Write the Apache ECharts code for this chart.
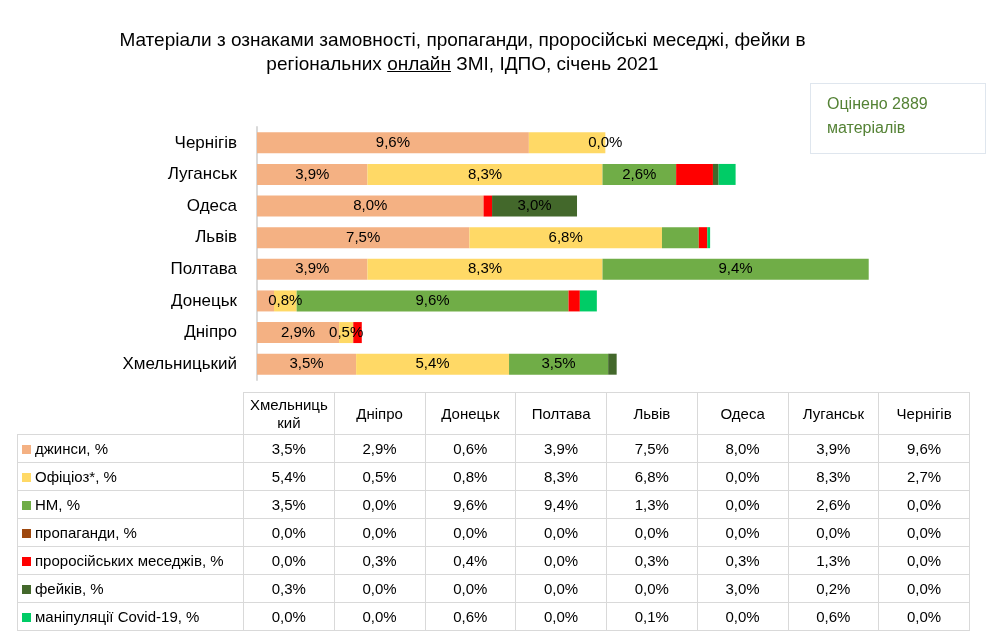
<!DOCTYPE html>
<html>
<head>
<meta charset="utf-8">
<script src="https://cdn.jsdelivr.net/npm/echarts@6/dist/echarts.min.js"></script>
<style>
  body { margin: 0; background: #fff; font-family: "Liberation Sans", sans-serif; color: #000; }
  .wrap { position: relative; width: 1000px; height: 640px; }
  #chart { position: absolute; left: 0; top: 0; width: 1000px; height: 640px; }
  .title { position: absolute; left: 0; top: 28px; width: 925px; text-align: center; font-size: 19px; line-height: 24px; }
  .note { position: absolute; left: 810px; top: 83px; width: 176px; height: 71px; border: 1px solid #dfe6ee; box-sizing: border-box;
          color: #548235; font-size: 16px; line-height: 24px; padding: 8px 0 0 16px; }
  table.data { position: absolute; left: 17px; top: 392px; border-collapse: collapse; font-size: 15px; table-layout: fixed; width: 952px; }
  table.data td { border: 1px solid #d9d9d9; height: 27px; padding: 0; text-align: center; }
  table.data tr.head td { height: 41px; line-height: 18px; }
  table.data td.name { text-align: left; padding-left: 4px; }
  table.data tr.head td.name { border-top: none; border-left: none; }
  .sw { display: inline-block; width: 9px; height: 9px; margin-right: 4px; vertical-align: 0px; }
</style>
</head>
<body>
<div class="wrap">
  <div id="chart"></div>
  <div class="title">Матеріали з ознаками замовності, пропаганди, проросійські меседжі, фейки в<br>регіональних <u>онлайн</u> ЗМІ, ІДПО, січень 2021</div>
  <div class="note">Оцінено 2889<br>матеріалів</div>
  <table class="data" id="tbl"></table>
</div>
<script>
// категорії знизу вгору (як у таблиці)
const cities = ['Хмельницький', 'Дніпро', 'Донецьк', 'Полтава', 'Львів', 'Одеса', 'Луганськ', 'Чернігів']
const cityHeads = ['Хмельниць<br>кий', 'Дніпро', 'Донецьк', 'Полтава', 'Львів', 'Одеса', 'Луганськ', 'Чернігів']

const jeans = [3.5, 2.9, 0.6, 3.9, 7.5, 8.0, 3.9, 9.6]
const official = [5.4, 0.5, 0.8, 8.3, 6.8, 0.0, 8.3, 2.7]
const nm = [3.5, 0.0, 9.6, 9.4, 1.3, 0.0, 2.6, 0.0]
const propaganda = [0.0, 0.0, 0.0, 0.0, 0.0, 0.0, 0.0, 0.0]
const proRussian = [0.0, 0.3, 0.4, 0.0, 0.3, 0.3, 1.3, 0.0]
const fakes = [0.3, 0.0, 0.0, 0.0, 0.0, 3.0, 0.2, 0.0]
const covid = [0.0, 0.0, 0.6, 0.0, 0.1, 0.0, 0.6, 0.0]

const seriesList = [
  { name: 'джинси, %', data: jeans, color: '#F4B183', labels: ['Хмельницький', 'Дніпро', 'Полтава', 'Львів', 'Одеса', 'Луганськ', 'Чернігів'] },
  { name: 'Офіціоз*, %', data: official, color: '#FFD966', labels: ['Хмельницький', 'Дніпро', 'Донецьк', 'Полтава', 'Львів', 'Луганськ'] },
  { name: 'НМ, %', data: nm, color: '#70AD47', labels: ['Хмельницький', 'Донецьк', 'Полтава', 'Луганськ', 'Чернігів'] },
  { name: 'пропаганди, %', data: propaganda, color: '#9E480E', labels: [] },
  { name: 'проросійських меседжів, %', data: proRussian, color: '#FF0000', labels: [] },
  { name: 'фейків, %', data: fakes, color: '#43682B', labels: ['Одеса'] },
  { name: 'маніпуляції Covid-19, %', data: covid, color: '#00CC66', labels: [] }
]

const fmt = (v) => v.toFixed(1).replace('.', ',') + '%'

// таблиця даних під графіком
const tbl = document.getElementById('tbl')
let html = '<colgroup><col style="width:226px">' + cities.map(() => '<col style="width:90.75px">').join('') + '</colgroup>'
html += '<tr class="head"><td class="name"></td>' + cityHeads.map(c => '<td>' + c + '</td>').join('') + '</tr>'
seriesList.forEach(s => {
  html += '<tr><td class="name"><span class="sw" style="background:' + s.color + '"></span>' + s.name + '</td>' +
    s.data.map(v => '<td>' + fmt(v) + '</td>').join('') + '</tr>'
})
tbl.innerHTML = html

const chart = echarts.init(document.getElementById('chart'))
chart.setOption({
  animation: false,
  grid: { left: 257, top: 127, height: 253, width: 708 },
  xAxis: { type: 'value', min: 0, max: 25, show: false },
  yAxis: {
    type: 'category',
    data: cities,
    axisLine: { lineStyle: { color: '#d9d9d9', width: 2 } },
    axisTick: { show: false },
    axisLabel: { color: '#000', fontSize: 17, margin: 20, fontFamily: 'Liberation Sans' }
  },
  series: seriesList.map(s => ({
    name: s.name,
    type: 'bar',
    stack: 'all',
    barWidth: 21,
    itemStyle: { color: s.color },
    label: {
      position: 'inside',
      color: '#000',
      fontSize: 15,
      fontFamily: 'Liberation Sans',
      formatter: (p) => fmt(p.value)
    },
    data: s.data.map((v, i) => ({ value: v, label: { show: s.labels.includes(cities[i]) } }))
  }))
})
</script>
</body>
</html>
